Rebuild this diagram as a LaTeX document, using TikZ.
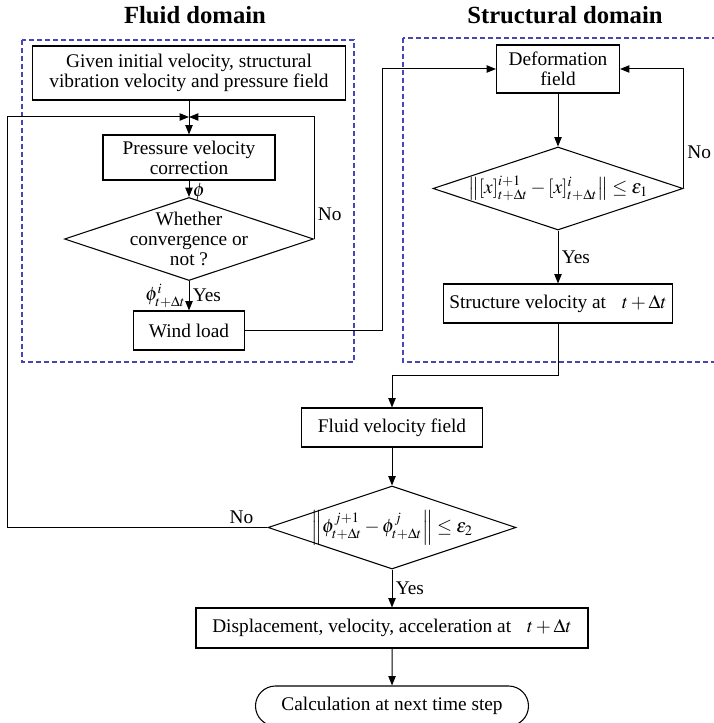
\documentclass[tikz,border=0pt]{standalone}
\usepackage{mathptmx}
\usepackage{fontspec}
\setmainfont{Liberation Serif}
\usetikzlibrary{shapes.geometric,shapes.misc,arrows.meta}
\definecolor{zoneblue}{RGB}{70,70,185}
\tikzset{
    proc/.style={rectangle,draw=black,line width=0.8pt, inner sep=0, align=center},
    decision/.style={diamond,draw=black,line width=0.8pt, inner sep=0},
    term/.style={rounded rectangle,draw=black,line width=0.8pt, inner sep=0},
    zone/.style={draw=zoneblue,line width=0.8pt, dash pattern=on 4pt off 2pt},
    heading/.style={font=\fontsize{18.5}{20}\selectfont\bfseries},
    lbl/.style={inner sep=2.5pt},
    flow/.style={->,line width=0.75pt}
}

\begin{document}
\begin{tikzpicture}[x=0.75pt, y=-0.75pt, font=\fontsize{14.5}{15}\selectfont,
    >={Triangle[length=7pt,width=5.5pt]}]
    \useasboundingbox (0,0) rectangle (713,723);
    \draw[zone] (22,40) rectangle (354,362);
    \draw[zone] (403,38) rectangle (716,362);
    \node[heading] (fluidhead) at (195,15) {Fluid domain};
    \node[heading] (structhead) at (565,15) {Structural domain};

    \node[proc, minimum width=234.75pt, minimum height=40.5pt] (given) at (189,73)
        {Given initial velocity, structural\\vibration velocity and pressure field};
    \coordinate (join) at (189,117);
    \coordinate (back) at (7,117);
    \node[proc, minimum width=129pt, minimum height=33.75pt] (press) at (189,157.5)
        {Pressure velocity\\correction};
    \node[decision, minimum width=186.75pt, minimum height=62.25pt] (conv) at (189,239) {};
    \node[align=center] (convtext) at (conv) {Whether\\convergence or\\not ?};
    \node[proc, minimum width=83.25pt, minimum height=29.25pt] (wind) at (189,330.5) {Wind load};

    \coordinate (bend) at (382,69);
    \node[proc, minimum width=92.25pt, minimum height=36pt] (deform) at (558,69)
        {Deformation\\field};
    \node[decision, minimum width=187.5pt, minimum height=62.25pt] (chk1) at (558,188.5) {};
    \node (chk1text) at (chk1)
        {$\left\| [x]^{i+1}_{t+\Delta t} - [x]^{i}_{t+\Delta t} \right\| \leq \varepsilon_1$};
    \node[proc, minimum width=171.75pt, minimum height=29.25pt] (svel) at (558,303.5)
        {Structure velocity at\hspace{12pt}$t+\Delta t$};

    \coordinate (drop) at (392,375);
    \node[proc, minimum width=135.75pt, minimum height=29.25pt] (fvel) at (392,427.5)
        {Fluid velocity field};
    \node[decision, minimum width=186pt, minimum height=62.25pt] (chk2) at (392,527.5) {};
    \node (chk2text) at (chk2)
        {$\left\| \phi^{j+1}_{t+\Delta t} - \phi^{j}_{t+\Delta t} \right\| \leq \varepsilon_2$};
    \node[proc, minimum width=294pt, minimum height=30pt] (disp) at (392,628)
        {Displacement, velocity, acceleration at\hspace{12pt}$t+\Delta t$};
    \node[term, minimum width=204.75pt, minimum height=30pt] (calc) at (392,706)
        {Calculation at next time step};

    \draw[flow] (given) -- (press);
    \draw[flow] (press) -- node[lbl, right, pos=0.7] (phi) {$\phi$} (conv);
    \draw[flow] (conv.east) |- node[lbl, right, pos=0.1] (no1) {No} (join);
    \draw[flow] (conv) -- node[lbl, right] (yes1) {Yes}
        node[lbl, left] (phii) {$\phi^{i}_{t+\Delta t}$} (wind);
    \draw[flow] (wind.east) -| (bend) -- (deform.west);
    \draw[flow] (deform) -- (chk1);
    \draw[flow] (chk1.east) |- node[lbl, right, pos=0.15] (no2) {No} (deform.east);
    \draw[flow] (chk1) -- node[lbl, right] (yes2) {Yes} (svel);
    \draw[flow] (svel.south) |- (drop) -- (fvel);
    \draw[flow] (fvel) -- (chk2);
    \draw[flow] (chk2.west) -| node[lbl, above, pos=0.05] (no3) {No} (back) -- (join);
    \draw[flow] (chk2) -- node[lbl, right] (yes3) {Yes} (disp);
    \draw[flow] (disp) -- (calc);
\end{tikzpicture}
\end{document}
